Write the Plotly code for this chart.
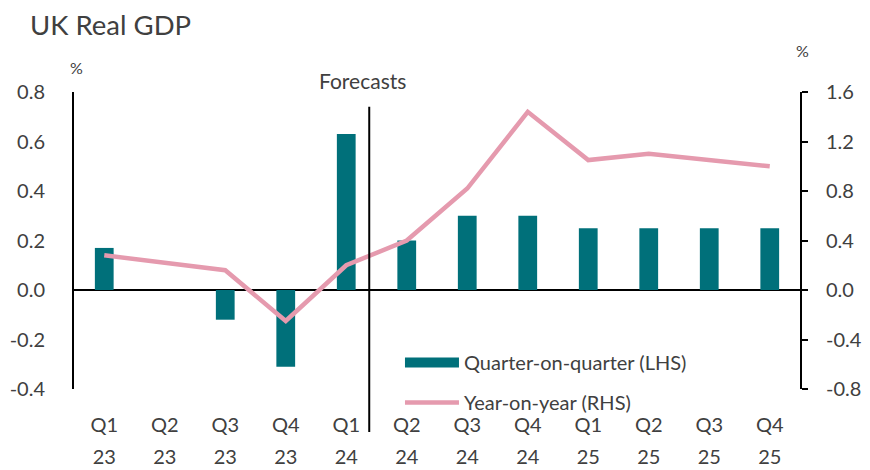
import plotly.graph_objects as go

quarters = ["Q1", "Q2", "Q3", "Q4", "Q1", "Q2", "Q3", "Q4", "Q1", "Q2", "Q3", "Q4"]
years = ["23", "23", "23", "23", "24", "24", "24", "24", "25", "25", "25", "25"]
qoq = [0.17, 0.0, -0.12, -0.31, 0.63, 0.20, 0.30, 0.30, 0.25, 0.25, 0.25, 0.25]
yoy = [0.28, 0.22, 0.16, -0.25, 0.20, 0.40, 0.82, 1.44, 1.05, 1.10, 1.05, 1.00]
lhs_ticks = [-0.4, -0.2, 0.0, 0.2, 0.4, 0.6, 0.8]
rhs_ticks = [-0.8, -0.4, 0.0, 0.4, 0.8, 1.2, 1.6]
forecast_start = 4.38  # boundary between Q1 24 and Q2 24

idx = list(range(len(quarters)))
FONT = "Lato"
TXT = "#404040"
TEAL = "#00707A"
PINK = "#E59AAE"

# page body has an 8px default margin, so the figure is 8px smaller than the window
W, H = 862, 462


def fmt(v):
    return f"{v:.1f}"


fig = go.Figure()
fig.add_trace(go.Bar(x=idx, y=qoq, name="Quarter-on-quarter (LHS)", marker_color=TEAL,
                     marker_line_width=0, width=0.31, showlegend=False))
# legend key for the bars (wide rectangle like the reference)
fig.add_trace(go.Scatter(x=[None], y=[None], name="Quarter-on-quarter (LHS)", mode="lines",
                         line=dict(color=TEAL, width=16), legendgroup="a",
                         hoverinfo="skip"))
fig.add_trace(go.Scatter(x=idx, y=yoy, name="Year-on-year (RHS)", mode="lines",
                         line=dict(color=PINK, width=4.5), yaxis="y2", legendgroup="b"))
# carrier for the second row of category labels (years)
fig.add_trace(go.Scatter(x=idx, y=[None] * len(idx), xaxis="x2", showlegend=False,
                         hoverinfo="skip"))

fig.update_layout(
    width=W, height=H,
    margin=dict(l=66, r=70, t=84, b=81),
    paper_bgcolor="white", plot_bgcolor="white",
    font=dict(family=FONT, size=20, color=TXT),
    title=dict(text="UK Real GDP", x=22 / W, xanchor="left", y=1 - 17.5 / H,
               yanchor="middle", font=dict(size=27.5, color=TXT)),
    showlegend=True,
    legend=dict(x=0.449, xanchor="left", y=0.155, yanchor="top", tracegroupgap=11,
                itemwidth=54,
                bgcolor="rgba(0,0,0,0)", font=dict(size=20, color=TXT)),
    xaxis=dict(range=[-0.5, 11.5], tickmode="array", tickvals=idx, ticktext=quarters,
               showgrid=False, zeroline=False, showline=False, ticks="",
               ticklabelstandoff=22, automargin=False),
    xaxis2=dict(range=[-0.5, 11.5], overlaying="x", anchor="y", side="bottom",
                tickmode="array", tickvals=idx, ticktext=years,
                showgrid=False, zeroline=False, showline=False, ticks="",
                ticklabelstandoff=54, automargin=False),
    yaxis=dict(range=[-0.4, 0.8], tickmode="array", tickvals=lhs_ticks,
               ticktext=[fmt(v) for v in lhs_ticks], showgrid=False,
               zeroline=True, zerolinecolor="black", zerolinewidth=2,
               showline=True, linecolor="black", linewidth=2, ticks="",
               ticklabelstandoff=23, automargin=False),
    yaxis2=dict(range=[-0.8, 1.6], tickmode="array", tickvals=rhs_ticks,
                ticktext=[fmt(v) for v in rhs_ticks], overlaying="y",
                side="right", showgrid=False, zeroline=False,
                showline=True, linecolor="black", linewidth=2,
                ticks="outside", ticklen=6, tickwidth=2, tickcolor="black",
                ticklabelstandoff=14, automargin=False),
    shapes=[dict(type="line", xref="x", yref="paper", x0=forecast_start, x1=forecast_start,
                 y0=-0.145, y1=0.95, line=dict(color="black", width=2))],
    annotations=[
        dict(text="Forecasts", xref="x", yref="paper", x=forecast_start, xshift=-7, y=1.04,
             showarrow=False, yanchor="middle", font=dict(size=21, color=TXT)),
        dict(text="%", xref="paper", yref="paper", x=0.003, xanchor="center", y=1.081,
             yanchor="middle", showarrow=False, font=dict(size=16, color=TXT)),
        dict(text="%", xref="paper", yref="paper", x=1.004, xanchor="center", y=1.141,
             yanchor="middle", showarrow=False, font=dict(size=16, color=TXT)),
    ],
)

fig.write_html("out.html")
